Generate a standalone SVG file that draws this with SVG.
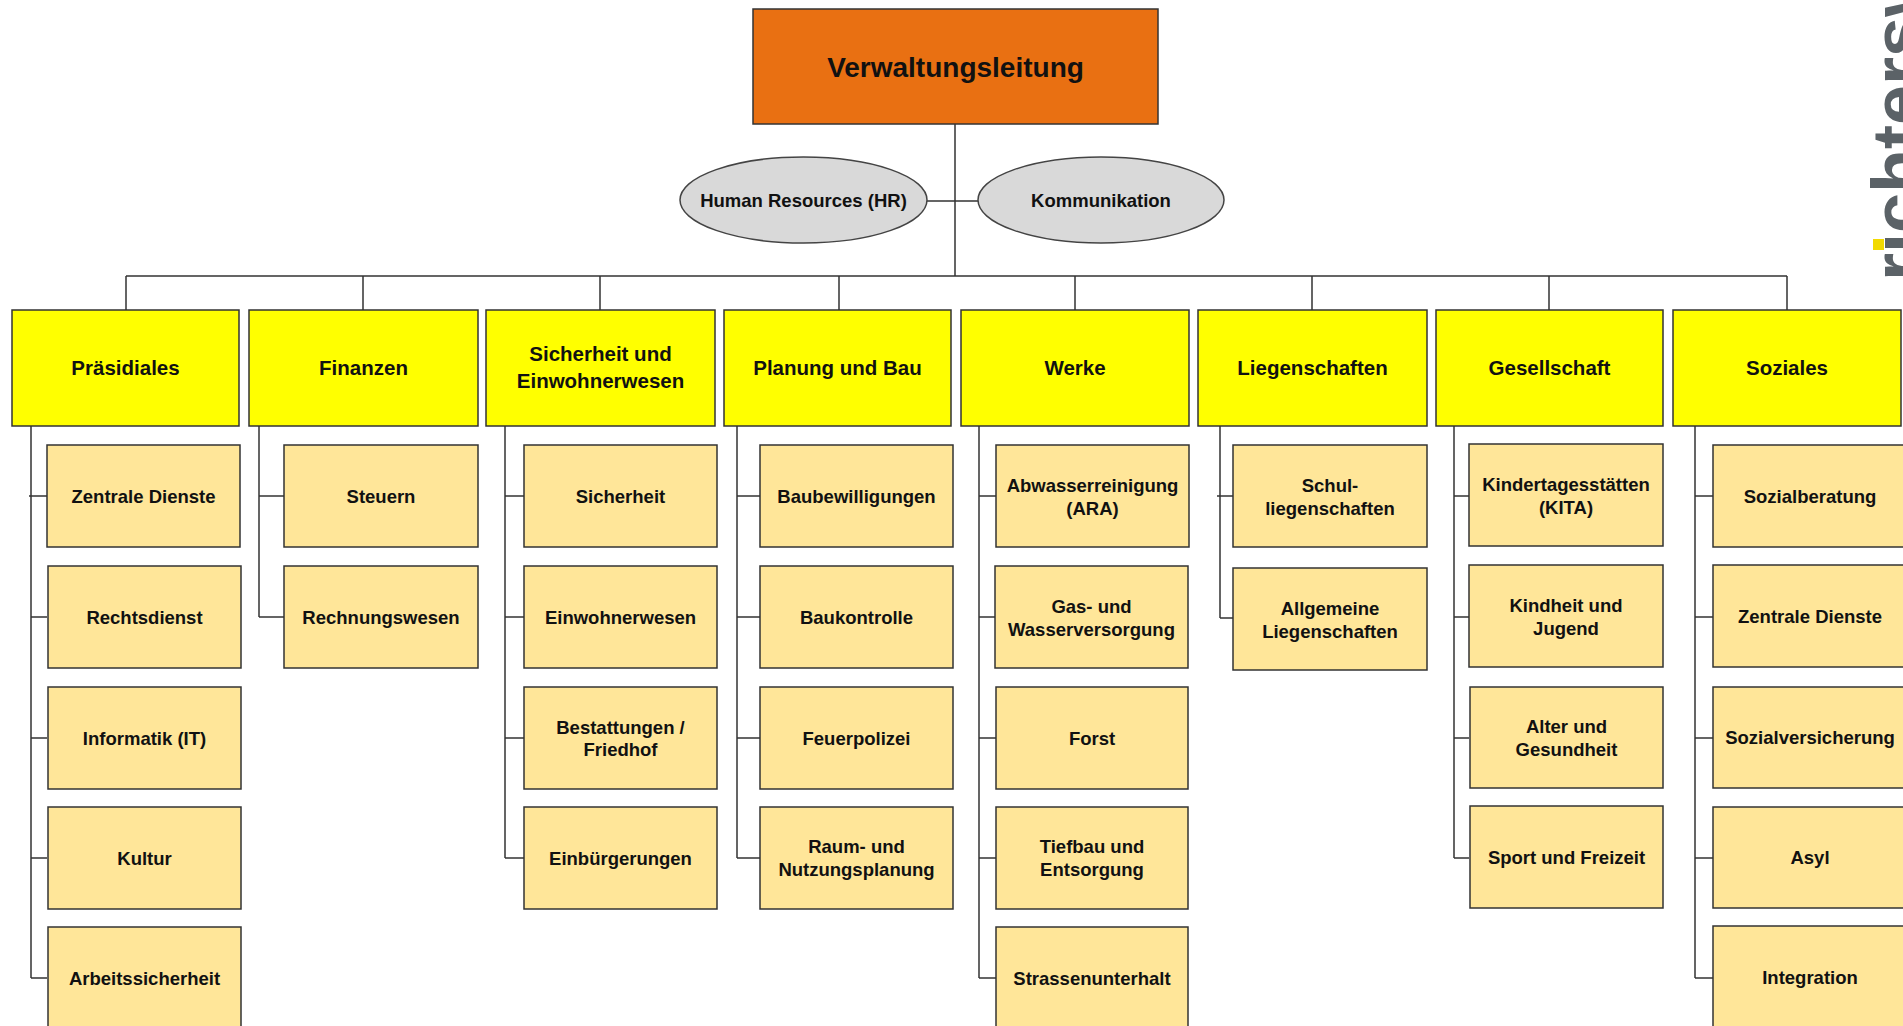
<svg xmlns="http://www.w3.org/2000/svg" width="1903" height="1026" viewBox="0 0 1903 1026">
<style>
text{font-family:"Liberation Sans",Arial,sans-serif;font-weight:bold;fill:#111;text-anchor:middle}
.top{fill:#E97012;stroke:#333;stroke-width:1.5}
.head{fill:#FFFF00;stroke:#333;stroke-width:1.5}
.sub{fill:#FFE699;stroke:#333;stroke-width:1.5}
.ell{fill:#D9D9D9;stroke:#444;stroke-width:1.5}
.t0{font-size:28px}
.th{font-size:20.5px}
.ts{font-size:18.5px}
#connectors path{fill:none;stroke:#333;stroke-width:1.5}
.logo{font-family:"Liberation Sans",Arial,sans-serif;font-weight:bold;font-size:72px;fill:#5B6267;text-anchor:start}
</style>
<rect width="1903" height="1026" fill="#fff"/>
<g id="connectors">
<path d="M955 124V276M927 201H978M126 276H1787M126 276V310M363 276V310M600 276V310M839 276V310M1075 276V310M1312 276V310M1549 276V310M1787 276V310"/>
<path d="M31 426V978M29 496H47M31 617H47M31 738H47M31 858H47M31 978H47"/>
<path d="M259 426V617M259 496H284M259 617H284"/>
<path d="M505 426V858M505 496H524M505 617H524M505 738H524M505 858H524"/>
<path d="M737 426V858M737 496H760M737 617H760M737 738H760M737 858H760"/>
<path d="M979 426V978M979 496H996M979 617H996M979 738H996M979 858H996M979 978H996"/>
<path d="M1220 426V618M1217 496H1233M1220 618H1233"/>
<path d="M1454 426V858M1454 496H1469M1454 617H1469M1454 738H1469M1454 858H1469"/>
<path d="M1695 426V978M1695 496H1713M1695 617H1713M1695 738H1713M1695 858H1713M1695 978H1713"/>
</g>
<g id="verwaltungsleitung"><rect class="top" x="753" y="9" width="405" height="115"/><text class="t0" x="955.5" y="77">Verwaltungsleitung</text></g>
<g id="hr"><ellipse class="ell" cx="803.5" cy="200" rx="123.5" ry="43"/><text class="ts" x="803.5" y="207">Human Resources (HR)</text></g>
<g id="kommunikation"><ellipse class="ell" cx="1101" cy="200" rx="123" ry="43"/><text class="ts" x="1101" y="207">Kommunikation</text></g>

<g id="praesidiales"><rect class="head" x="12" y="310" width="227" height="116"/><text class="th" x="125.5" y="375">Präsidiales</text></g>
<g id="finanzen"><rect class="head" x="249" y="310" width="229" height="116"/><text class="th" x="363.5" y="375">Finanzen</text></g>
<g id="sicherheit-einwohnerwesen"><rect class="head" x="486" y="310" width="229" height="116"/><text class="th" x="600.5" y="361">Sicherheit und</text><text class="th" x="600.5" y="388">Einwohnerwesen</text></g>
<g id="planung-bau"><rect class="head" x="724" y="310" width="227" height="116"/><text class="th" x="837.5" y="375">Planung und Bau</text></g>
<g id="werke"><rect class="head" x="961" y="310" width="228" height="116"/><text class="th" x="1075" y="375">Werke</text></g>
<g id="liegenschaften"><rect class="head" x="1198" y="310" width="229" height="116"/><text class="th" x="1312.5" y="375">Liegenschaften</text></g>
<g id="gesellschaft"><rect class="head" x="1436" y="310" width="227" height="116"/><text class="th" x="1549.5" y="375">Gesellschaft</text></g>
<g id="soziales"><rect class="head" x="1673" y="310" width="228" height="116"/><text class="th" x="1787" y="375">Soziales</text></g>

<g id="p-zentrale-dienste"><rect class="sub" x="47" y="445" width="193" height="102"/><text class="ts" x="143.5" y="503">Zentrale Dienste</text></g>
<g id="p-rechtsdienst"><rect class="sub" x="48" y="566" width="193" height="102"/><text class="ts" x="144.5" y="624">Rechtsdienst</text></g>
<g id="p-informatik"><rect class="sub" x="48" y="687" width="193" height="102"/><text class="ts" x="144.5" y="745">Informatik (IT)</text></g>
<g id="p-kultur"><rect class="sub" x="48" y="807" width="193" height="102"/><text class="ts" x="144.5" y="865">Kultur</text></g>
<g id="p-arbeitssicherheit"><rect class="sub" x="48" y="927" width="193" height="102"/><text class="ts" x="144.5" y="985">Arbeitssicherheit</text></g>

<g id="f-steuern"><rect class="sub" x="284" y="445" width="194" height="102"/><text class="ts" x="381" y="503">Steuern</text></g>
<g id="f-rechnungswesen"><rect class="sub" x="284" y="566" width="194" height="102"/><text class="ts" x="381" y="624">Rechnungswesen</text></g>

<g id="s-sicherheit"><rect class="sub" x="524" y="445" width="193" height="102"/><text class="ts" x="620.5" y="503">Sicherheit</text></g>
<g id="s-einwohnerwesen"><rect class="sub" x="524" y="566" width="193" height="102"/><text class="ts" x="620.5" y="624">Einwohnerwesen</text></g>
<g id="s-bestattungen"><rect class="sub" x="524" y="687" width="193" height="102"/><text class="ts" x="620.5" y="734">Bestattungen /</text><text class="ts" x="620.5" y="756">Friedhof</text></g>
<g id="s-einbuergerungen"><rect class="sub" x="524" y="807" width="193" height="102"/><text class="ts" x="620.5" y="865">Einbürgerungen</text></g>

<g id="pb-baubewilligungen"><rect class="sub" x="760" y="445" width="193" height="102"/><text class="ts" x="856.5" y="503">Baubewilligungen</text></g>
<g id="pb-baukontrolle"><rect class="sub" x="760" y="566" width="193" height="102"/><text class="ts" x="856.5" y="624">Baukontrolle</text></g>
<g id="pb-feuerpolizei"><rect class="sub" x="760" y="687" width="193" height="102"/><text class="ts" x="856.5" y="745">Feuerpolizei</text></g>
<g id="pb-raum"><rect class="sub" x="760" y="807" width="193" height="102"/><text class="ts" x="856.5" y="853">Raum- und</text><text class="ts" x="856.5" y="876">Nutzungsplanung</text></g>

<g id="w-abwasser"><rect class="sub" x="996" y="445" width="193" height="102"/><text class="ts" x="1092.5" y="492">Abwasserreinigung</text><text class="ts" x="1092.5" y="515">(ARA)</text></g>
<g id="w-gas"><rect class="sub" x="995" y="566" width="193" height="102"/><text class="ts" x="1091.5" y="613">Gas- und</text><text class="ts" x="1091.5" y="636">Wasserversorgung</text></g>
<g id="w-forst"><rect class="sub" x="996" y="687" width="192" height="102"/><text class="ts" x="1092" y="745">Forst</text></g>
<g id="w-tiefbau"><rect class="sub" x="996" y="807" width="192" height="102"/><text class="ts" x="1092" y="853">Tiefbau und</text><text class="ts" x="1092" y="876">Entsorgung</text></g>
<g id="w-strassen"><rect class="sub" x="996" y="927" width="192" height="102"/><text class="ts" x="1092" y="985">Strassenunterhalt</text></g>

<g id="l-schul"><rect class="sub" x="1233" y="445" width="194" height="102"/><text class="ts" x="1330" y="492">Schul-</text><text class="ts" x="1330" y="515">liegenschaften</text></g>
<g id="l-allgemeine"><rect class="sub" x="1233" y="568" width="194" height="102"/><text class="ts" x="1330" y="615">Allgemeine</text><text class="ts" x="1330" y="638">Liegenschaften</text></g>

<g id="g-kita"><rect class="sub" x="1469" y="444" width="194" height="102"/><text class="ts" x="1566" y="491">Kindertagesstätten</text><text class="ts" x="1566" y="514">(KITA)</text></g>
<g id="g-kindheit"><rect class="sub" x="1469" y="565" width="194" height="102"/><text class="ts" x="1566" y="612">Kindheit und</text><text class="ts" x="1566" y="635">Jugend</text></g>
<g id="g-alter"><rect class="sub" x="1470" y="687" width="193" height="101"/><text class="ts" x="1566.5" y="733">Alter und</text><text class="ts" x="1566.5" y="756">Gesundheit</text></g>
<g id="g-sport"><rect class="sub" x="1470" y="806" width="193" height="102"/><text class="ts" x="1566.5" y="864">Sport und Freizeit</text></g>

<g id="z-sozialberatung"><rect class="sub" x="1713" y="445" width="194" height="102"/><text class="ts" x="1810" y="503">Sozialberatung</text></g>
<g id="z-zentrale-dienste"><rect class="sub" x="1713" y="565" width="194" height="102"/><text class="ts" x="1810" y="623">Zentrale Dienste</text></g>
<g id="z-sozialversicherung"><rect class="sub" x="1713" y="687" width="194" height="101"/><text class="ts" x="1810" y="744">Sozialversicherung</text></g>
<g id="z-asyl"><rect class="sub" x="1713" y="807" width="194" height="101"/><text class="ts" x="1810" y="864">Asyl</text></g>
<g id="z-integration"><rect class="sub" x="1713" y="926" width="194" height="102"/><text class="ts" x="1810" y="984">Integration</text></g>

<g id="logo">
<text class="logo" transform="translate(1923,281) rotate(-90)">richtersw</text>
<rect x="1864" y="232" width="19" height="22" fill="#fff"/>
<rect x="1873" y="239" width="11" height="11" fill="#F2DA00"/>
</g>
</svg>
